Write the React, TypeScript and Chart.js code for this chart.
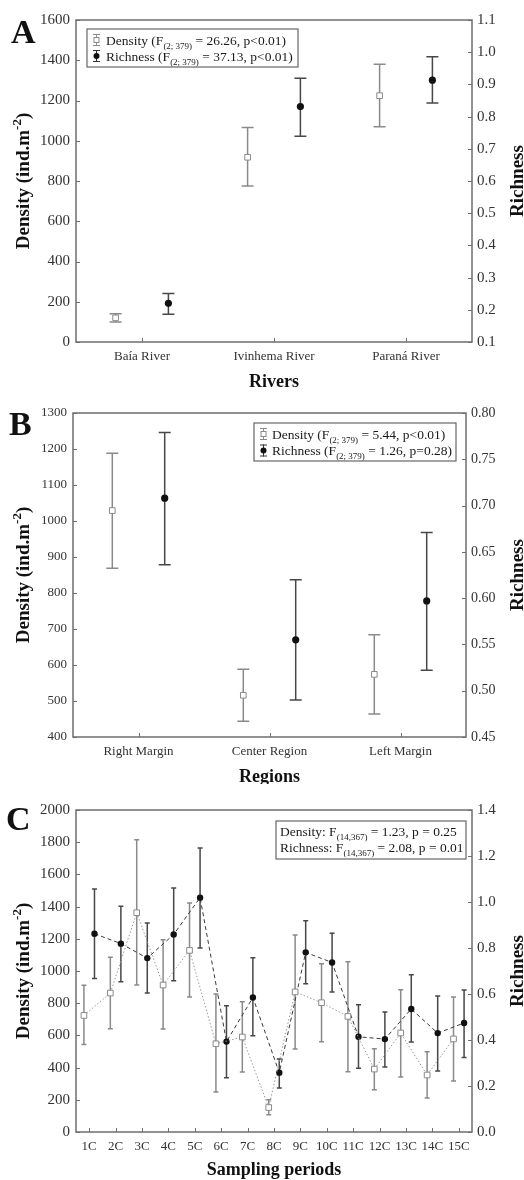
import React, { useEffect, useRef } from 'react';
import { Chart, registerables } from 'chart.js';

Chart.register(...registerables);

const FONT = '"Liberation Serif", "Times New Roman", Times, serif';
const W = 524;

// ---------- Panel A: Rivers ----------
const riverLabels = ['Baía River', 'Ivinhema River', 'Paraná River'];
const riverDensity = [120, 918, 1224];
const riverDensityHi = [140, 1066, 1380];
const riverDensityLo = [100, 775, 1070];
const riverRichness = [0.22, 0.831, 0.913];
const riverRichnessHi = [0.251, 0.919, 0.986];
const riverRichnessLo = [0.186, 0.739, 0.842];
const riverDensityTicks = [0, 200, 400, 600, 800, 1000, 1200, 1400, 1600];
const riverRichnessTicks = [0.1, 0.2, 0.3, 0.4, 0.5, 0.6, 0.7, 0.8, 0.9, 1.0, 1.1];

// ---------- Panel B: Regions ----------
const regionLabels = ['Right Margin', 'Center Region', 'Left Margin'];
const regionDensity = [1029, 516, 574];
const regionDensityHi = [1188, 588, 684];
const regionDensityLo = [869, 444, 464];
const regionRichness = [0.708, 0.555, 0.597];
const regionRichnessHi = [0.779, 0.62, 0.671];
const regionRichnessLo = [0.636, 0.49, 0.522];
const regionDensityTicks = [400, 500, 600, 700, 800, 900, 1000, 1100, 1200, 1300];
const regionRichnessTicks = [0.45, 0.5, 0.55, 0.6, 0.65, 0.7, 0.75, 0.8];

// ---------- Panel C: Sampling periods ----------
const periodLabels = ['1C', '2C', '3C', '4C', '5C', '6C', '7C', '8C', '9C', '10C', '11C', '12C', '13C', '14C', '15C'];
const periodDensity = [724, 863, 1362, 913, 1128, 548, 590, 152, 870, 803, 718, 391, 615, 354, 578];
const periodDensityHi = [911, 1085, 1815, 1194, 1422, 857, 809, 200, 1224, 1045, 1058, 517, 884, 499, 838];
const periodDensityLo = [544, 642, 913, 640, 838, 248, 373, 107, 516, 561, 375, 263, 342, 211, 317];
const periodRichness = [0.862, 0.819, 0.756, 0.859, 1.019, 0.393, 0.585, 0.258, 0.781, 0.737, 0.414, 0.404, 0.535, 0.43, 0.474];
const periodRichnessHi = [1.057, 0.981, 0.909, 1.061, 1.235, 0.549, 0.758, 0.317, 0.919, 0.864, 0.553, 0.522, 0.684, 0.591, 0.617];
const periodRichnessLo = [0.667, 0.653, 0.604, 0.658, 0.8, 0.236, 0.419, 0.191, 0.645, 0.609, 0.277, 0.283, 0.391, 0.265, 0.324];
const periodDensityTicks = [0, 200, 400, 600, 800, 1000, 1200, 1400, 1600, 1800, 2000];
const periodRichnessTicks = [0, 0.2, 0.4, 0.6, 0.8, 1.0, 1.2, 1.4];

type Seg = { t: string; sub?: boolean; sup?: boolean };
type Series = { v: number[]; hi: number[]; lo: number[] };

interface PanelSpec {
  height: number;
  area: { left: number; right: number; top: number; bottom: number };
  letter: string;
  letterX: number;
  letterY: number;
  labels: string[];
  density: Series;
  richness: Series;
  yTicks: number[];
  y1Ticks: number[];
  y1Dec: number;
  yTickSize: number;
  y1TickSize: number;
  xTickSize: number;
  xTitle: string;
  xTitleY: number;
  legend: {
    x: number; y: number; w: number; h: number;
    textX: number; symX: number | null; size: number;
    rows: Seg[][]; baselines: number[];
  };
  lines: boolean;
  cap: number;
  sq: number;
  dot: number;
}

const segFont = (s: Seg, size: number, weight: string) =>
  `${weight} ${s.sub || s.sup ? Math.round(size * 0.66) : size}px ${FONT}`;

function measureSegs(ctx: CanvasRenderingContext2D, segs: Seg[], size: number, weight: string) {
  let w = 0;
  for (const s of segs) {
    ctx.font = segFont(s, size, weight);
    w += ctx.measureText(s.t).width;
  }
  return w;
}

function drawSegs(ctx: CanvasRenderingContext2D, segs: Seg[], x: number, y: number, size: number, weight: string, align: 'left' | 'center') {
  const total = measureSegs(ctx, segs, size, weight);
  let cx = align === 'center' ? x - total / 2 : x;
  ctx.textAlign = 'left';
  ctx.textBaseline = 'alphabetic';
  for (const s of segs) {
    ctx.font = segFont(s, size, weight);
    const dy = s.sub ? size * 0.3 : s.sup ? -size * 0.4 : 0;
    ctx.fillText(s.t, cx, y + dy);
    cx += ctx.measureText(s.t).width;
  }
}

const densityTitle: Seg[] = [{ t: 'Density (ind.m' }, { t: '-2', sup: true }, { t: ')' }];
const richnessTitle: Seg[] = [{ t: 'Richness' }];

function makeConfig(spec: PanelSpec): any {
  const n = spec.labels.length;
  const off = 0.2;
  const { area } = spec;
  const densityColor = '#8a8a8a';
  const richColor = '#474747';

  const errorBars = {
    id: 'errorBars',
    beforeDatasetsDraw(chart: any) {
      const ctx = chart.ctx as CanvasRenderingContext2D;
      const xs = chart.scales.x, ys = chart.scales.y, y1 = chart.scales.y1;
      const ca = chart.chartArea;
      ctx.save();
      // frame
      ctx.strokeStyle = '#6e6e6e';
      ctx.lineWidth = 1.5;
      ctx.strokeRect(ca.left, ca.top, ca.right - ca.left, ca.bottom - ca.top);
      ctx.lineWidth = 1;
      ctx.beginPath();
      for (const t of ys.ticks) {
        const p = Math.round(ys.getPixelForValue(t.value)) + 0.5;
        ctx.moveTo(ca.left, p); ctx.lineTo(ca.left + 4, p);
      }
      for (const t of y1.ticks) {
        const p = Math.round(y1.getPixelForValue(t.value)) + 0.5;
        ctx.moveTo(ca.right, p); ctx.lineTo(ca.right - 4, p);
      }
      for (const t of xs.ticks) {
        const p = Math.round(xs.getPixelForValue(t.value)) + 0.5;
        ctx.moveTo(p, ca.bottom); ctx.lineTo(p, ca.bottom - 4);
      }
      ctx.stroke();

      const drawBar = (x: number, yt: number, yb: number, color: string) => {
        ctx.strokeStyle = color;
        ctx.lineWidth = 1.5;
        ctx.beginPath();
        ctx.moveTo(x, yt); ctx.lineTo(x, yb);
        ctx.moveTo(x - spec.cap, yt); ctx.lineTo(x + spec.cap, yt);
        ctx.moveTo(x - spec.cap, yb); ctx.lineTo(x + spec.cap, yb);
        ctx.stroke();
      };
      for (let i = 0; i < n; i++) {
        const xd = xs.getPixelForValue(i + 1 - off);
        drawBar(xd, ys.getPixelForValue(spec.density.hi[i]), ys.getPixelForValue(spec.density.lo[i]), densityColor);
        const xr = xs.getPixelForValue(i + 1 + off);
        drawBar(xr, y1.getPixelForValue(spec.richness.hi[i]), y1.getPixelForValue(spec.richness.lo[i]), richColor);
      }
      ctx.restore();
    },
    afterDraw(chart: any) {
      const ctx = chart.ctx as CanvasRenderingContext2D;
      const ca = chart.chartArea;
      const cy = (ca.top + ca.bottom) / 2;
      ctx.save();
      ctx.fillStyle = '#111';
      // panel letter
      ctx.font = `bold 34px ${FONT}`;
      ctx.textAlign = 'left';
      ctx.textBaseline = 'alphabetic';
      ctx.fillText(spec.letter, spec.letterX, spec.letterY);
      // left title
      ctx.save();
      ctx.translate(29, cy);
      ctx.rotate(-Math.PI / 2);
      drawSegs(ctx, densityTitle, 0, 0, 19, 'bold', 'center');
      ctx.restore();
      // right title
      ctx.save();
      ctx.translate(523, cy);
      ctx.rotate(-Math.PI / 2);
      drawSegs(ctx, richnessTitle, 0, 0, 19, 'bold', 'center');
      ctx.restore();
      // x title
      drawSegs(ctx, [{ t: spec.xTitle }], (ca.left + ca.right) / 2, spec.xTitleY, 18, 'bold', 'center');
      // legend
      const lg = spec.legend;
      ctx.fillStyle = '#ffffff';
      ctx.fillRect(lg.x, lg.y, lg.w, lg.h);
      ctx.strokeStyle = '#666';
      ctx.lineWidth = 1.2;
      ctx.strokeRect(lg.x, lg.y, lg.w, lg.h);
      ctx.fillStyle = '#1a1a1a';
      lg.rows.forEach((row, k) => {
        drawSegs(ctx, row, lg.textX, lg.baselines[k], lg.size, 'normal', 'left');
      });
      if (lg.symX !== null) {
        lg.baselines.forEach((b, k) => {
          const mid = b - 4.5;
          const sx = lg.symX as number;
          ctx.strokeStyle = k === 0 ? densityColor : '#333';
          ctx.lineWidth = 1;
          ctx.beginPath();
          ctx.moveTo(sx + 0.5, mid - 6); ctx.lineTo(sx + 0.5, mid + 6);
          ctx.moveTo(sx - 3, mid - 6 + 0.5); ctx.lineTo(sx + 4, mid - 6 + 0.5);
          ctx.moveTo(sx - 3, mid + 6 - 0.5); ctx.lineTo(sx + 4, mid + 6 - 0.5);
          ctx.stroke();
          if (k === 0) {
            ctx.fillStyle = '#fff';
            ctx.fillRect(sx - 2, mid - 2.5, 5, 5);
            ctx.strokeRect(sx - 2, mid - 2.5, 5, 5);
          } else {
            ctx.fillStyle = '#111';
            ctx.beginPath();
            ctx.arc(sx + 0.5, mid, 3, 0, Math.PI * 2);
            ctx.fill();
          }
        });
      }
      ctx.restore();
    },
  };

  const tickColor = '#333';
  const H = spec.height;

  return {
    type: 'line',
    data: {
      datasets: [
        {
          label: 'Density',
          yAxisID: 'y',
          data: spec.labels.map((_, i) => ({ x: i + 1 - off, y: spec.density.v[i] })),
          showLine: spec.lines,
          borderColor: '#9a9a9a',
          borderWidth: 1,
          borderDash: [1.5, 2],
          pointStyle: 'rect',
          pointRadius: spec.sq,
          pointBackgroundColor: '#ffffff',
          pointBorderColor: '#8a8a8a',
          pointBorderWidth: 1,
          tension: 0,
        },
        {
          label: 'Richness',
          yAxisID: 'y1',
          data: spec.labels.map((_, i) => ({ x: i + 1 + off, y: spec.richness.v[i] })),
          showLine: spec.lines,
          borderColor: '#3a3a3a',
          borderWidth: 1,
          borderDash: [4, 3],
          pointStyle: 'circle',
          pointRadius: spec.dot,
          pointBackgroundColor: '#111',
          pointBorderColor: '#111',
          pointBorderWidth: 0,
          tension: 0,
        },
      ],
    },
    options: {
      animation: false,
      responsive: false,
      maintainAspectRatio: false,
      devicePixelRatio: 1,
      layout: { padding: { top: area.top, left: 0, right: 0, bottom: 0 } },
      plugins: { legend: { display: false }, tooltip: { enabled: false }, title: { display: false } },
      scales: {
        x: {
          type: 'linear',
          min: 0.5,
          max: n + 0.5,
          grid: { display: false, drawTicks: false },
          border: { display: false },
          afterBuildTicks: (s: any) => { s.ticks = spec.labels.map((_, i) => ({ value: i + 1 })); },
          afterFit: (s: any) => { s.height = H - area.bottom; },
          ticks: {
            autoSkip: false,
            maxRotation: 0,
            padding: 7,
            color: tickColor,
            font: { family: FONT, size: spec.xTickSize },
            callback: (v: any) => spec.labels[Math.round(Number(v)) - 1] ?? '',
          },
        },
        y: {
          type: 'linear',
          position: 'left',
          min: spec.yTicks[0],
          max: spec.yTicks[spec.yTicks.length - 1],
          grid: { display: false, drawTicks: false },
          border: { display: false },
          afterBuildTicks: (s: any) => { s.ticks = spec.yTicks.map((v) => ({ value: v })); },
          afterFit: (s: any) => { s.width = area.left; },
          ticks: {
            padding: 6,
            color: tickColor,
            font: { family: FONT, size: spec.yTickSize },
            callback: (v: any) => String(v),
          },
        },
        y1: {
          type: 'linear',
          position: 'right',
          min: spec.y1Ticks[0],
          max: spec.y1Ticks[spec.y1Ticks.length - 1],
          grid: { display: false, drawTicks: false },
          border: { display: false },
          afterBuildTicks: (s: any) => { s.ticks = spec.y1Ticks.map((v) => ({ value: v })); },
          afterFit: (s: any) => { s.width = W - area.right; },
          ticks: {
            padding: 5,
            color: tickColor,
            font: { family: FONT, size: spec.y1TickSize },
            callback: (v: any) => Number(v).toFixed(spec.y1Dec),
          },
        },
      },
    },
    plugins: [errorBars],
  };
}

const specA: PanelSpec = {
  height: 392,
  area: { left: 76, right: 472, top: 20, bottom: 342 },
  letter: 'A', letterX: 11, letterY: 43,
  labels: riverLabels,
  density: { v: riverDensity, hi: riverDensityHi, lo: riverDensityLo },
  richness: { v: riverRichness, hi: riverRichnessHi, lo: riverRichnessLo },
  yTicks: riverDensityTicks, y1Ticks: riverRichnessTicks, y1Dec: 1,
  yTickSize: 15, y1TickSize: 15, xTickSize: 13,
  xTitle: 'Rivers', xTitleY: 387,
  legend: {
    x: 87, y: 29, w: 211, h: 38, textX: 106, symX: 96, size: 13.5,
    rows: [
      [{ t: 'Density (F' }, { t: '(2; 379)', sub: true }, { t: ' = 26.26, p<0.01)' }],
      [{ t: 'Richness (F' }, { t: '(2; 379)', sub: true }, { t: ' = 37.13, p<0.01)' }],
    ],
    baselines: [44.5, 60.5],
  },
  lines: false, cap: 6, sq: 4, dot: 3.6,
};

const specB: PanelSpec = {
  height: 392,
  area: { left: 73, right: 466, top: 21, bottom: 345 },
  letter: 'B', letterX: 9, letterY: 43,
  labels: regionLabels,
  density: { v: regionDensity, hi: regionDensityHi, lo: regionDensityLo },
  richness: { v: regionRichness, hi: regionRichnessHi, lo: regionRichnessLo },
  yTicks: regionDensityTicks, y1Ticks: regionRichnessTicks, y1Dec: 2,
  yTickSize: 13, y1TickSize: 14, xTickSize: 13,
  xTitle: 'Regions', xTitleY: 390,
  legend: {
    x: 254, y: 31, w: 202, h: 38, textX: 272, symX: 263, size: 13.5,
    rows: [
      [{ t: 'Density (F' }, { t: '(2; 379)', sub: true }, { t: ' = 5.44, p<0.01)' }],
      [{ t: 'Richness (F' }, { t: '(2; 379)', sub: true }, { t: ' = 1.26, p=0.28)' }],
    ],
    baselines: [46.5, 63],
  },
  lines: false, cap: 6, sq: 4, dot: 3.6,
};

const specC: PanelSpec = {
  height: 396,
  area: { left: 76, right: 472, top: 26, bottom: 348 },
  letter: 'C', letterX: 6, letterY: 46,
  labels: periodLabels,
  density: { v: periodDensity, hi: periodDensityHi, lo: periodDensityLo },
  richness: { v: periodRichness, hi: periodRichnessHi, lo: periodRichnessLo },
  yTicks: periodDensityTicks, y1Ticks: periodRichnessTicks, y1Dec: 1,
  yTickSize: 15, y1TickSize: 15, xTickSize: 13,
  xTitle: 'Sampling periods', xTitleY: 391,
  legend: {
    x: 276, y: 37, w: 190, h: 38, textX: 280, symX: null, size: 13.5,
    rows: [
      [{ t: 'Density: F' }, { t: '(14,367)', sub: true }, { t: ' = 1.23, p = 0.25' }],
      [{ t: 'Richness: F' }, { t: '(14,367)', sub: true }, { t: ' = 2.08, p = 0.01' }],
    ],
    baselines: [51.5, 68],
  },
  lines: true, cap: 2.5, sq: 4, dot: 3.2,
};

function Panel({ spec, top }: { spec: PanelSpec; top: number }) {
  const ref = useRef<HTMLCanvasElement | null>(null);
  useEffect(() => {
    if (!ref.current) return;
    const chart = new Chart(ref.current, makeConfig(spec));
    return () => chart.destroy();
  }, [spec]);
  return (
    <canvas
      ref={ref}
      width={W}
      height={spec.height}
      style={{ position: 'absolute', left: 0, top, width: W, height: spec.height, display: 'block' }}
    />
  );
}

export default function App() {
  return (
    <div style={{ position: 'absolute', left: 0, top: 0, width: W, height: 1180, background: '#fff', overflow: 'hidden' }}>
      <Panel spec={specA} top={0} />
      <Panel spec={specB} top={392} />
      <Panel spec={specC} top={784} />
    </div>
  );
}
